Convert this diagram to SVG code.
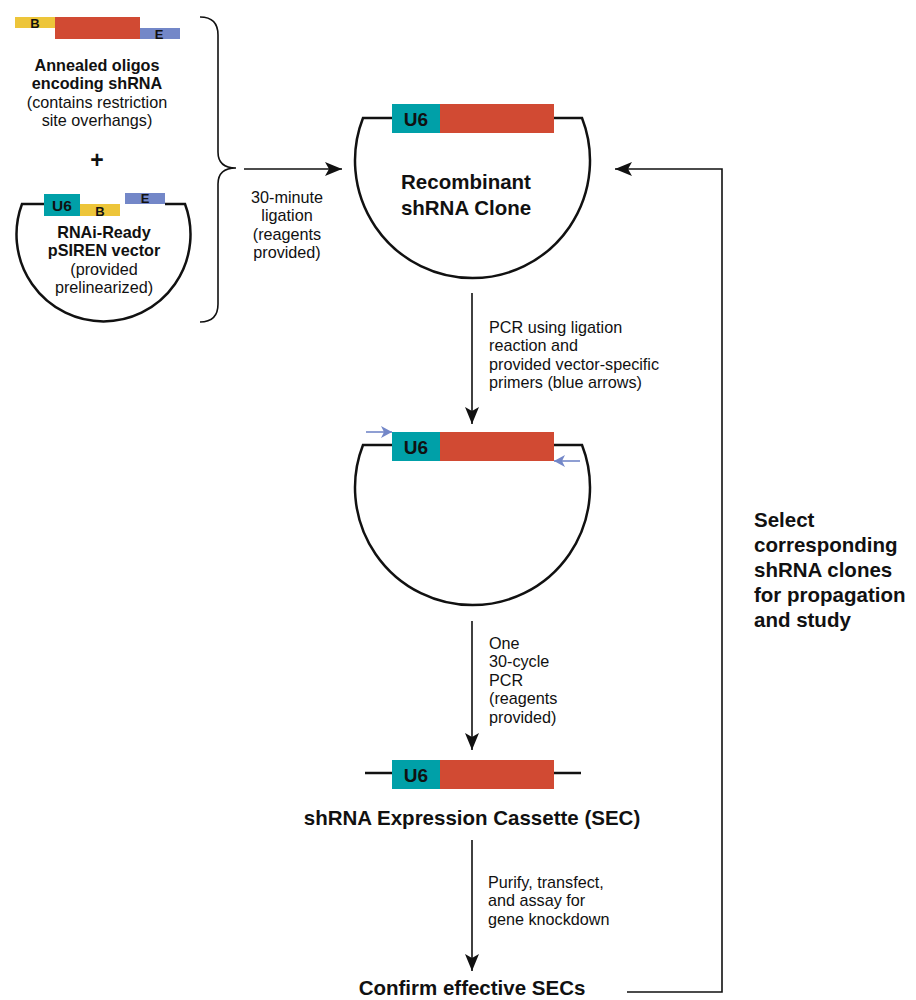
<svg xmlns="http://www.w3.org/2000/svg" width="916" height="1000" viewBox="0 0 916 1000">
<defs>
<style>
.t{font-family:"Liberation Sans",Arial,sans-serif;fill:#111;}
.s{font-size:16.2px;}
.b{font-weight:bold;}
.big{font-size:20.5px;font-weight:bold;}
.u6{font-size:19px;font-weight:bold;}
.lbl{font-size:13px;font-weight:bold;}
.teal{fill:#00a0a8;}
.red{fill:#d14a33;}
.yel{fill:#edc53a;}
.blu{fill:#7387c8;}
.bowl{fill:none;stroke:#111;stroke-width:2.5;}
.arr{fill:none;stroke:#111;stroke-width:1.6;}
.parr{fill:none;stroke:#7387c8;stroke-width:1.6;}
</style>
<marker id="ah" markerUnits="userSpaceOnUse" markerWidth="18" markerHeight="14" refX="17" refY="7" orient="auto">
<path d="M0,0 L17,7 L0,14 L4,7 Z" fill="#111"/>
</marker>
<marker id="bh" markerUnits="userSpaceOnUse" markerWidth="12" markerHeight="12" refX="11" refY="6" orient="auto">
<path d="M0,0 L11,6 L0,12 L3,6 Z" fill="#7387c8"/>
</marker>
</defs>
<rect width="916" height="1000" fill="#fff"/>

<g id="oligos">
<rect class="yel" x="15" y="17" width="40" height="11"/>
<rect class="red" x="55" y="17" width="85" height="22"/>
<rect class="blu" x="140" y="28" width="40" height="11"/>
<text class="t lbl" x="35" y="27.5" text-anchor="middle">B</text>
<text class="t lbl" x="159" y="38.5" text-anchor="middle">E</text>
<text class="t s b" x="97" y="70.5" text-anchor="middle">Annealed oligos</text>
<text class="t s b" x="97" y="89" text-anchor="middle">encoding shRNA</text>
<text class="t s" x="97" y="107.5" text-anchor="middle">(contains restriction</text>
<text class="t s" x="97" y="126" text-anchor="middle">site overhangs)</text>
</g>

<g id="plus">
<text class="t" x="97" y="168" text-anchor="middle" style="font-size:23px;font-weight:bold">+</text>
</g>

<g id="vector">
<path class="bowl" d="M44,204 H22 A87,87 0 1 0 185,204 H165"/>
<rect class="teal" x="44" y="194" width="36" height="22"/>
<rect class="yel" x="80" y="204" width="40" height="12"/>
<rect class="blu" x="125" y="193" width="40" height="11"/>
<text class="t" x="62" y="210.5" text-anchor="middle" style="font-size:15.5px;font-weight:bold">U6</text>
<text class="t lbl" x="100" y="215.5" text-anchor="middle">B</text>
<text class="t lbl" x="145" y="203" text-anchor="middle">E</text>
<text class="t s b" x="104" y="237.5" text-anchor="middle">RNAi-Ready</text>
<text class="t s b" x="104" y="256" text-anchor="middle">pSIREN vector</text>
<text class="t s" x="104" y="274.5" text-anchor="middle">(provided</text>
<text class="t s" x="104" y="293" text-anchor="middle">prelinearized)</text>
</g>

<g id="brace">
<path d="M200,17 Q218,17 218,35 L218,152 Q218,168 236,168 Q218,168 218,184 L218,304 Q218,322 200,322" fill="none" stroke="#111" stroke-width="1.6"/>
</g>

<g id="clone">
<path class="bowl" d="M392,118 H363 A117.5,117.5 0 1 0 582,118 H554"/>
<rect class="teal" x="392" y="104" width="48" height="29"/>
<rect class="red" x="440" y="104" width="114" height="29"/>
<text class="t u6" x="416" y="125.5" text-anchor="middle">U6</text>
<text class="t big" x="466" y="189" text-anchor="middle">Recombinant</text>
<text class="t big" x="466" y="215" text-anchor="middle">shRNA Clone</text>
</g>

<g id="pcr-template">
<path class="bowl" d="M392,445 H363 A117.5,117.5 0 1 0 582,445 H554"/>
<rect class="teal" x="392" y="432" width="48" height="29"/>
<rect class="red" x="440" y="432" width="114" height="29"/>
<text class="t u6" x="416" y="453.5" text-anchor="middle">U6</text>
<path class="parr" d="M366,432 H392" marker-end="url(#bh)"/>
<path class="parr" d="M580,461 H554" marker-end="url(#bh)"/>
</g>

<g id="cassette">
<path d="M365,773 H392 M554,773 H581" fill="none" stroke="#111" stroke-width="2.5"/>
<rect class="teal" x="392" y="760" width="48" height="29"/>
<rect class="red" x="440" y="760" width="114" height="29"/>
<text class="t u6" x="416" y="781.5" text-anchor="middle">U6</text>
<text class="t big" x="472" y="825" text-anchor="middle">shRNA Expression Cassette (SEC)</text>
</g>

<g id="confirm">
<text class="t big" x="472" y="995" text-anchor="middle">Confirm effective SECs</text>
</g>

<g id="select">
<text class="t big" x="754" y="527">Select</text>
<text class="t big" x="754" y="552">corresponding</text>
<text class="t big" x="754" y="577">shRNA clones</text>
<text class="t big" x="754" y="602">for propagation</text>
<text class="t big" x="754" y="627">and study</text>
</g>

<g id="connectors">
<path class="arr" d="M244,169 H342" marker-end="url(#ah)"/>
<path class="arr" d="M472,293 V424" marker-end="url(#ah)"/>
<path class="arr" d="M472,621 V750" marker-end="url(#ah)"/>
<path class="arr" d="M472,840 V971" marker-end="url(#ah)"/>
<path class="arr" d="M627,992 H722 V169 H615" marker-end="url(#ah)"/>
</g>

<g id="labels">
<text class="t s" x="287" y="202.5" text-anchor="middle">30-minute</text>
<text class="t s" x="287" y="221" text-anchor="middle">ligation</text>
<text class="t s" x="287" y="239.5" text-anchor="middle">(reagents</text>
<text class="t s" x="287" y="258" text-anchor="middle">provided)</text>
<text class="t s" x="489" y="332.5">PCR using ligation</text>
<text class="t s" x="489" y="351">reaction and</text>
<text class="t s" x="489" y="369.5">provided vector-specific</text>
<text class="t s" x="489" y="388">primers (blue arrows)</text>
<text class="t s" x="489" y="648.5">One</text>
<text class="t s" x="489" y="667">30-cycle</text>
<text class="t s" x="489" y="685.5">PCR</text>
<text class="t s" x="489" y="704">(reagents</text>
<text class="t s" x="489" y="722.5">provided)</text>
<text class="t s" x="488" y="887.5">Purify, transfect,</text>
<text class="t s" x="488" y="906">and assay for</text>
<text class="t s" x="488" y="924.5">gene knockdown</text>
</g>
</svg>
